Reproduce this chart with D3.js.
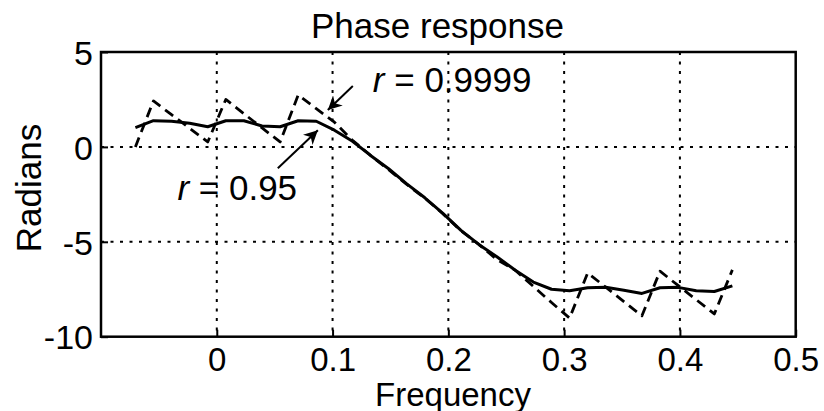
<!DOCTYPE html>
<html>
<head>
<meta charset="utf-8">
<script src="https://cdn.jsdelivr.net/npm/d3@7"></script>
<style>
  html, body { margin: 0; padding: 0; background: #fff; }
  svg { display: block; }
  text { font-family: "Liberation Sans", Arial, Helvetica, sans-serif; fill: #000; }
</style>
</head>
<body>
<svg id="chart" width="824" height="411"></svg>
<script>
// Frequency grid shared by both phase curves
const frequency = [-0.0703, -0.0547, -0.0391, -0.0234, -0.0078, 0.0078, 0.0234, 0.0391, 0.0547, 0.0703,
                   0.0859, 0.1016, 0.1172, 0.1328, 0.1484, 0.1641, 0.1797, 0.1953, 0.2109, 0.2266,
                   0.2422, 0.2578, 0.2734, 0.2891, 0.3047, 0.3203, 0.3359, 0.3516, 0.3672, 0.3828,
                   0.3984, 0.4141, 0.4297, 0.4453];

// Phase (radians) for r = 0.95 (solid)
const phaseR095 = [1.02, 1.38, 1.35, 1.25, 1.06, 1.38, 1.38, 1.10, 1.06, 1.38,
                   1.35, 0.88, 0.30, -0.45, -1.15, -1.95, -2.68, -3.50, -4.40, -5.15,
                   -5.80, -6.50, -7.12, -7.50, -7.58, -7.42, -7.40, -7.55, -7.72, -7.42,
                   -7.40, -7.58, -7.62, -7.32];

// Phase (radians) for r = 0.9999 (dashed)
const phaseR09999 = [0.00, 2.42, 1.70, 0.98, 0.26, 2.50, 1.75, 1.00, 0.26, 2.73,
                     2.02, 1.30, 0.35, -0.45, -1.20, -1.98, -2.70, -3.52, -4.42, -5.15,
                     -5.95, -6.50, -7.35, -8.20, -9.02, -6.64, -7.39, -8.15, -8.90, -6.55,
                     -7.30, -8.05, -8.80, -6.48];

const xTicks = [0, 0.1, 0.2, 0.3, 0.4, 0.5];
const yTicks = [5, 0, -5, -10];
const xDomain = [-0.1, 0.5];
const yDomain = [-10, 5];

const svg = d3.select("#chart");
const plotLeft = 101, plotRight = 795.7, plotTop = 52, plotBottom = 336.7;

const x = d3.scaleLinear().domain(xDomain).range([plotLeft, plotRight]);
const y = d3.scaleLinear().domain(yDomain).range([plotBottom, plotTop]);

// Plain hyphen for negative tick labels
const fmt = d => String(d);

// Dotted grid at interior ticks
const grid = svg.append("g").attr("stroke", "#000").attr("stroke-width", 2)
  .attr("stroke-dasharray", "3,6.5");
grid.selectAll("line.v").data(xTicks.filter(t => t > xDomain[0] && t < xDomain[1]))
  .join("line").attr("class", "v")
  .attr("x1", d => x(d)).attr("x2", d => x(d)).attr("y1", plotTop).attr("y2", plotBottom);
grid.selectAll("line.h").data(yTicks.filter(t => t > yDomain[0] && t < yDomain[1]))
  .join("line").attr("class", "h")
  .attr("y1", d => y(d)).attr("y2", d => y(d)).attr("x1", plotLeft).attr("x2", plotRight);

// Axes with inward ticks
const xAxis = svg.append("g").attr("transform", `translate(0,${plotBottom})`)
  .call(d3.axisBottom(x).tickValues(xTicks).tickSizeInner(-7).tickSizeOuter(0).tickFormat(fmt));
xAxis.select(".domain").remove();
xAxis.selectAll(".tick line").attr("stroke-width", 2);
xAxis.selectAll(".tick text").attr("font-size", 33).attr("y", 34).attr("dy", 0)
  .style("font-family", "'Liberation Sans', Arial, sans-serif");

const yAxis = svg.append("g").attr("transform", `translate(${plotLeft},0)`)
  .call(d3.axisLeft(y).tickValues(yTicks).tickSizeInner(-7).tickSizeOuter(0).tickFormat(fmt));
yAxis.select(".domain").remove();
yAxis.selectAll(".tick line").attr("stroke-width", 2);
yAxis.selectAll(".tick text").attr("font-size", 34).attr("x", -8).attr("dy", "0.36em")
  .style("font-family", "'Liberation Sans', Arial, sans-serif");

// Axes box
svg.append("rect").attr("x", plotLeft).attr("y", plotTop)
  .attr("width", plotRight - plotLeft).attr("height", plotBottom - plotTop)
  .attr("fill", "none").attr("stroke", "#000").attr("stroke-width", 2.5);

// Curves
const line = d3.line().x((d, i) => x(frequency[i])).y(d => y(d));
svg.append("path").datum(phaseR09999).attr("d", line)
  .attr("fill", "none").attr("stroke", "#000").attr("stroke-width", 2.8)
  .attr("stroke-dasharray", "10,6").attr("stroke-linejoin", "round");
svg.append("path").datum(phaseR095).attr("d", line)
  .attr("fill", "none").attr("stroke", "#000").attr("stroke-width", 3)
  .attr("stroke-linejoin", "round");

// Annotation arrows
const defs = svg.append("defs");
defs.append("marker").attr("id", "head").attr("viewBox", "0 0 10 10")
  .attr("refX", 10).attr("refY", 5).attr("markerWidth", 7).attr("markerHeight", 7)
  .attr("markerUnits", "strokeWidth").attr("orient", "auto")
  .append("path").attr("d", "M0,0 L10,5 L0,10 L3,5 Z").attr("fill", "#000");

const arrows = [
  { from: [0.1175, 3.21], to: [0.0959, 1.94] },
  { from: [0.0527, -1.13], to: [0.0873, 0.88] }
];
svg.selectAll("line.arrow").data(arrows).join("line").attr("class", "arrow")
  .attr("x1", d => x(d.from[0])).attr("y1", d => y(d.from[1]))
  .attr("x2", d => x(d.to[0])).attr("y2", d => y(d.to[1]))
  .attr("stroke", "#000").attr("stroke-width", 2).attr("marker-end", "url(#head)");

const notes = [
  { pos: [0.1348, 2.91], value: "0.9999" },
  { pos: [-0.034, -2.82], value: "0.95" }
];
notes.forEach(n => {
  const t = svg.append("text").attr("x", x(n.pos[0])).attr("y", y(n.pos[1]))
    .attr("font-size", 35);
  t.append("tspan").attr("font-style", "italic").text("r");
  t.append("tspan").text(" = " + n.value);
});

// Titles
svg.append("text").attr("x", 437.5).attr("y", 38).attr("text-anchor", "middle")
  .attr("font-size", 35).text("Phase response");
svg.append("text").attr("x", 453).attr("y", 405.5).attr("text-anchor", "middle")
  .attr("font-size", 33).text("Frequency");
svg.append("text").attr("transform", "translate(41,188) rotate(-90)")
  .attr("text-anchor", "middle").attr("font-size", 35).text("Radians");
</script>
</body>
</html>
